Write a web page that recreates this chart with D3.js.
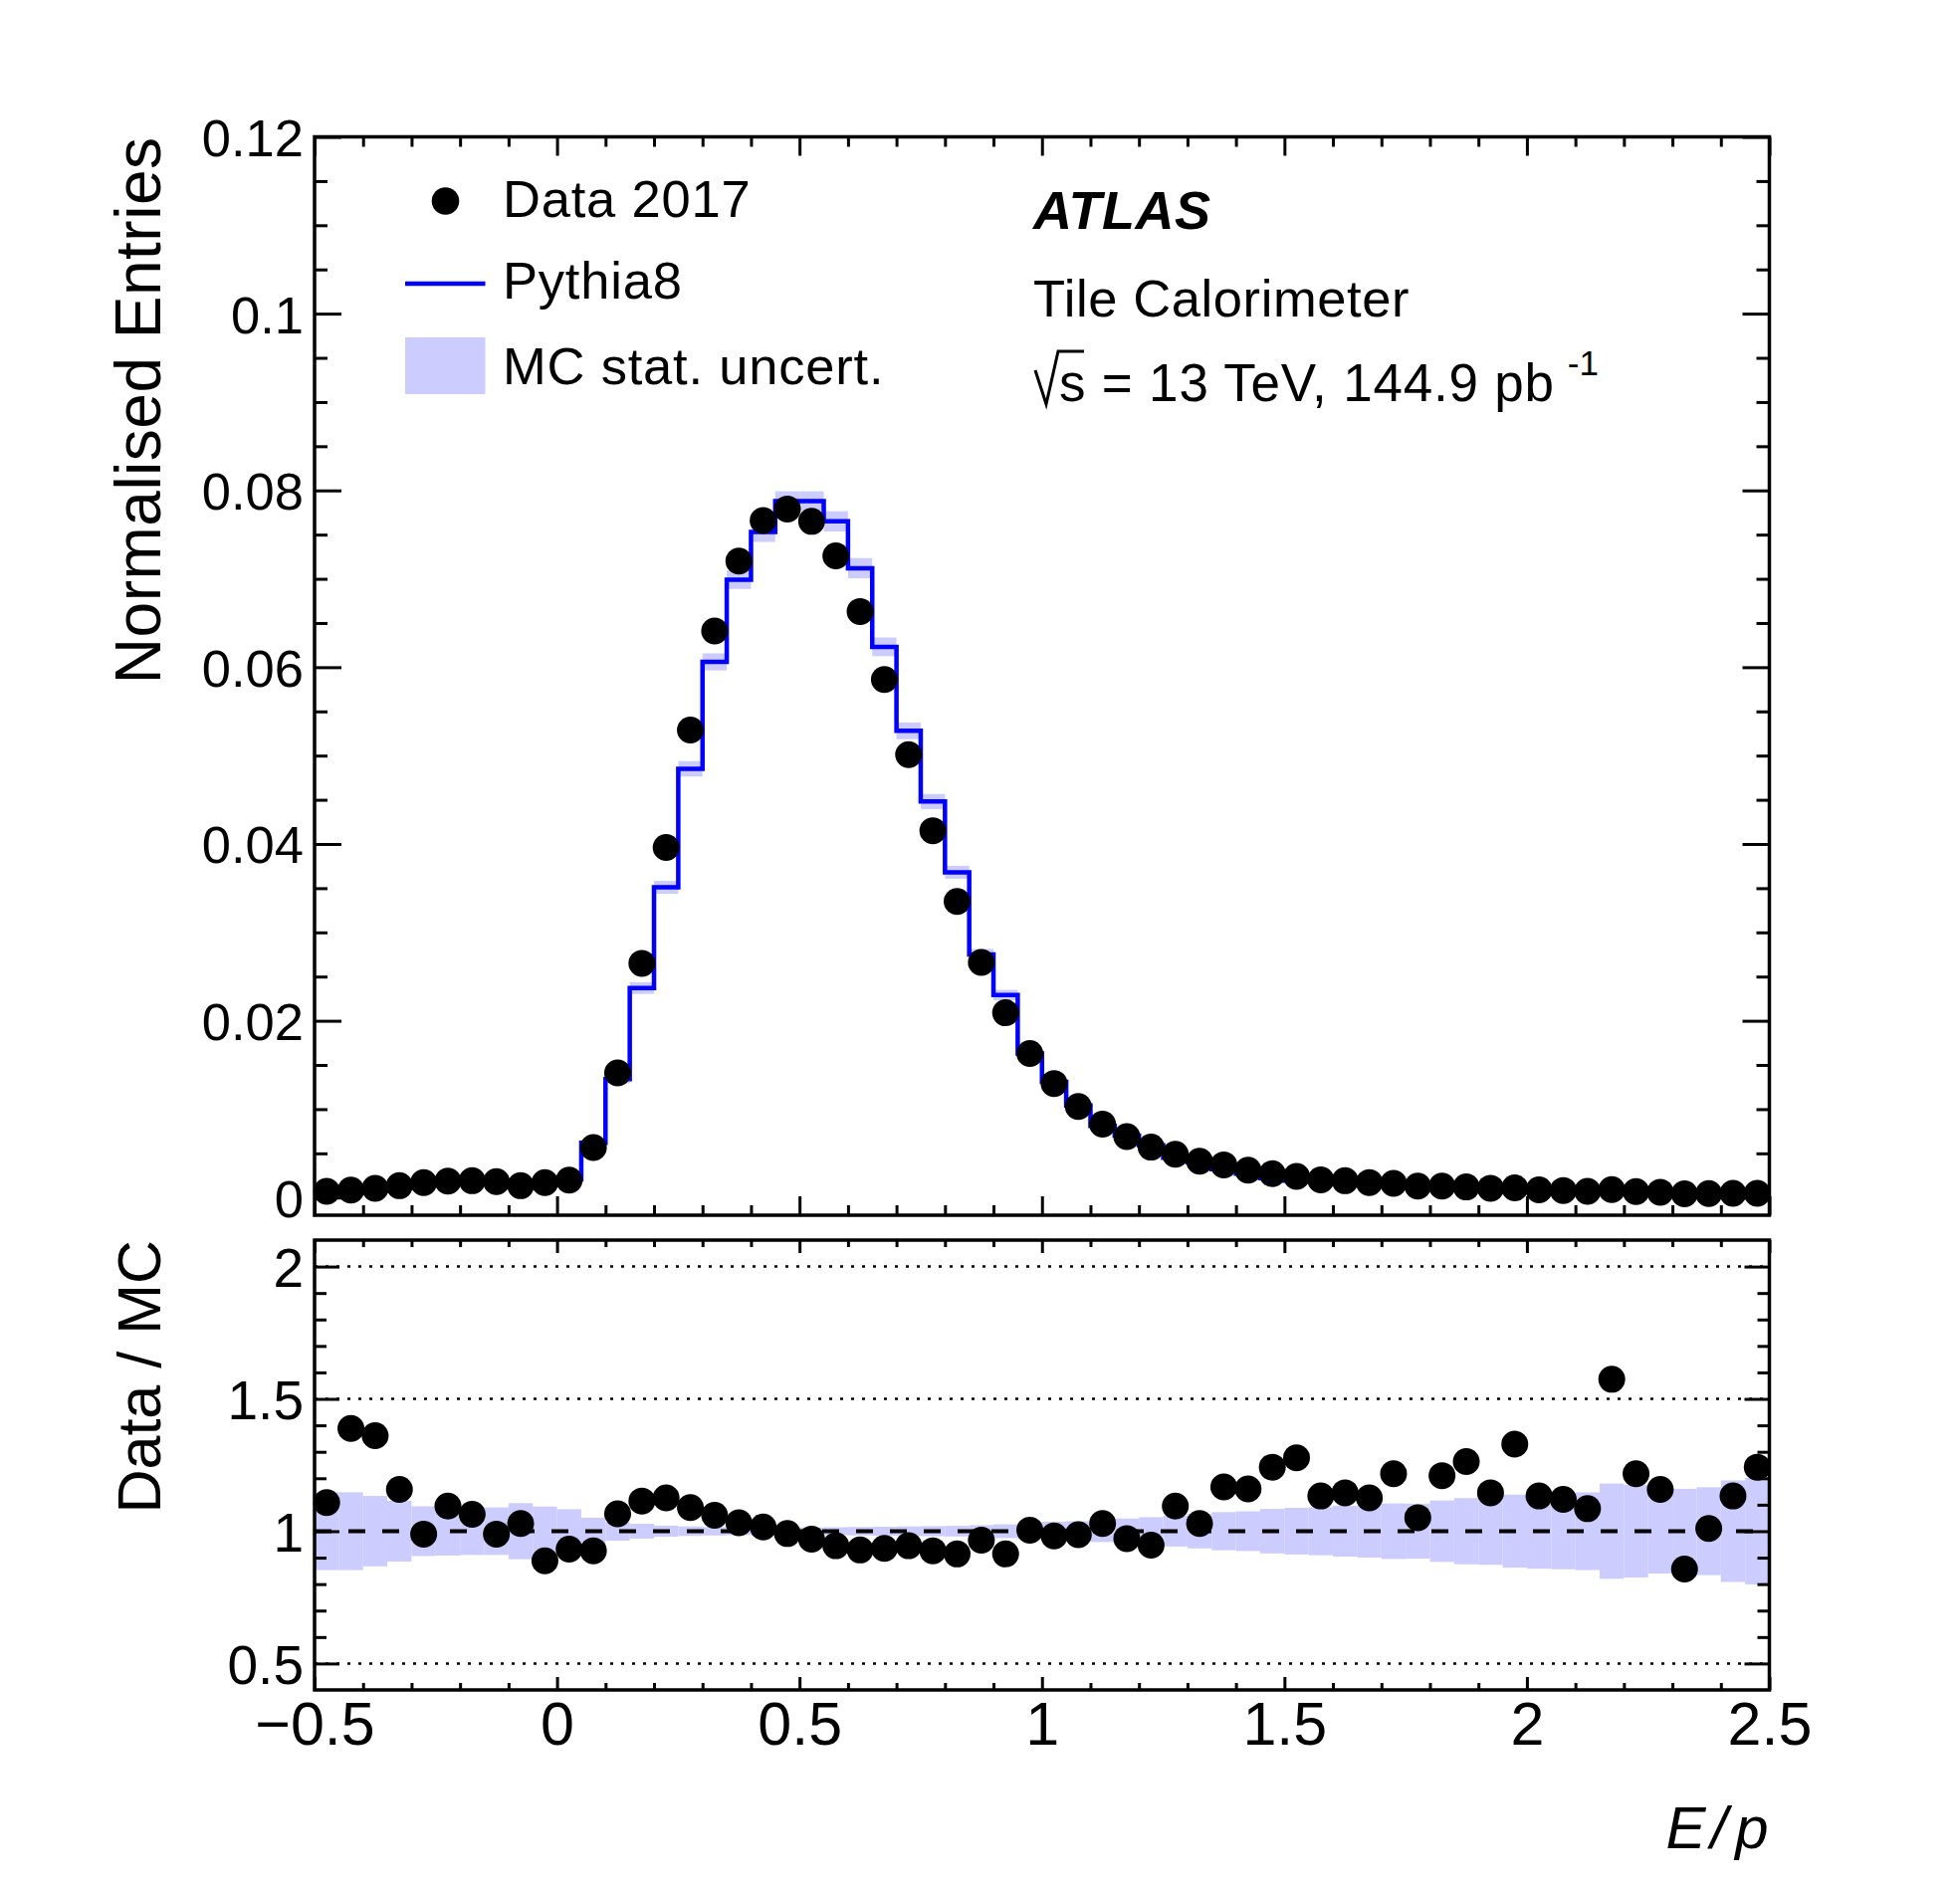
<!DOCTYPE html>
<html><head><meta charset="utf-8">
<script src="https://cdn.jsdelivr.net/npm/d3@7"></script>
<style>
body{margin:0;background:#fff}
svg{display:block}
</style>
</head><body>
<svg id="c" width="1969" height="1899"></svg>
<script>
// ---------------- data ----------------
const binLow = -0.5, binWidth = 0.05, nBins = 60;
const dataVals = [0.00070,0.00085,0.00104,0.00134,0.00168,0.00186,0.00190,0.00180,0.00134,0.00168,
 0.00197,0.00565,0.0141,0.0265,0.0396,0.0529,0.0641,0.0720,0.0766,0.0779,
 0.0765,0.0726,0.0663,0.0586,0.0501,0.0415,0.0335,0.0266,0.0209,0.0163,
 0.0129,0.0103,0.0083,0.0069,0.0057,0.0049,0.0041,0.0037,0.0031,0.0027,
 0.0024,0.0020,0.0019,0.0017,0.0016,0.0013,0.0013,0.0012,0.00105,0.0011,
 0.00087,0.0008,0.0007,0.0009,0.00068,0.0006,0.00042,0.00045,0.00048,0.00048];
const mcVals = [0.00063,0.00061,0.00076,0.00116,0.00170,0.00170,0.00179,0.00182,0.00130,0.00189,
 0.00205,0.0062,0.0134,0.0237,0.0351,0.0485,0.0606,0.0699,0.0753,0.0788,
 0.0788,0.0765,0.0712,0.0623,0.0528,0.0448,0.0368,0.0275,0.0229,0.0163,
 0.0131,0.0104,0.0081,0.0070,0.0059,0.0045,0.0040,0.0032,0.0027,0.0022,
 0.0019,0.0018,0.00165,0.0015,0.0013,0.00124,0.00108,0.00095,0.00092,0.00083,
 0.00077,0.00071,0.00065,0.00057,0.00056,0.00052,0.00049,0.00045,0.00042,0.00039];
const ratioVals = [1.108,1.388,1.361,1.158,0.989,1.095,1.064,0.989,1.029,0.888,
 0.932,0.926,1.066,1.114,1.126,1.089,1.060,1.032,1.016,0.991,
 0.970,0.945,0.929,0.935,0.945,0.926,0.914,0.966,0.914,1.004,
 0.982,0.987,1.029,0.972,0.947,1.095,1.029,1.167,1.160,1.242,
 1.277,1.133,1.145,1.126,1.217,1.051,1.210,1.263,1.145,1.329,
 1.133,1.120,1.085,1.574,1.217,1.158,0.857,1.010,1.133,1.242];
const mcRelErr = [0.147,0.147,0.133,0.115,0.094,0.092,0.090,0.090,0.106,0.093,
 0.083,0.051,0.036,0.028,0.021,0.018,0.016,0.015,0.015,0.014,
 0.014,0.015,0.016,0.017,0.018,0.019,0.020,0.023,0.026,0.030,
 0.036,0.038,0.041,0.048,0.053,0.058,0.065,0.072,0.075,0.084,
 0.088,0.091,0.096,0.100,0.105,0.104,0.116,0.125,0.127,0.138,
 0.142,0.144,0.147,0.180,0.175,0.160,0.160,0.166,0.192,0.201];

const xTickValues = [-0.5,0,0.5,1,1.5,2,2.5];
const xTickLabels = ["\u22120.5","0","0.5","1","1.5","2","2.5"];
const yTopTicks = [0,0.02,0.04,0.06,0.08,0.1,0.12];
const yTopLabels = ["0","0.02","0.04","0.06","0.08","0.1","0.12"];
const yBotTicks = [0.5,1,1.5,2];
const yBotLabels = ["0.5","1","1.5","2"];
const refLines = [0.5,1.5,2];
const legendLabels = ["Data 2017","Pythia8","MC stat. uncert."];

// ---------------- layout ----------------
const FONT = '"Liberation Sans", Arial, Helvetica, sans-serif';
const L = 316, R = 1777.5, T1 = 137.5, B1 = 1221, T2 = 1246, B2 = 1698;
const BLUE = "#0000ff", BAND = "#ccccff";
const x = d3.scaleLinear().domain([-0.5, 2.5]).range([L, R]);
const y1 = d3.scaleLinear().domain([-0.002, 0.12]).range([B1, T1]);
const y2 = d3.scaleLinear().domain([0.4, 2.1]).range([B2, T2]);

const bins = d3.range(nBins).map(i => ({
  lo: binLow + i * binWidth, hi: binLow + (i + 1) * binWidth,
  c: binLow + (i + 0.5) * binWidth,
  data: dataVals[i], mc: mcVals[i], ratio: ratioVals[i], err: mcRelErr[i]
}));

const svg = d3.select("#c");
svg.append("rect").attr("width",1969).attr("height",1899).attr("fill","#fff");

// ---------- top panel ----------
const topG = svg.append("g");
topG.selectAll("rect.band").data(bins).join("rect")
  .attr("x", d => x(d.lo)).attr("width", d => x(d.hi) - x(d.lo))
  .attr("y", d => y1(d.mc * (1 + d.err)))
  .attr("height", d => y1(d.mc * (1 - d.err)) - y1(d.mc * (1 + d.err)))
  .attr("fill", BAND);

const stepPts = bins.map(d => [d.lo, d.mc]).concat([[bins[nBins-1].hi, bins[nBins-1].mc]]);
topG.append("path")
  .attr("d", d3.line().x(d => x(d[0])).y(d => y1(d[1])).curve(d3.curveStepAfter)(stepPts))
  .attr("fill","none").attr("stroke", BLUE).attr("stroke-width", 4.5);

// ---------- bottom panel ----------
const botG = svg.append("g");
botG.selectAll("rect.band").data(bins).join("rect")
  .attr("x", d => x(d.lo)).attr("width", d => x(d.hi) - x(d.lo))
  .attr("y", d => y2(1 + d.err))
  .attr("height", d => y2(1 - d.err) - y2(1 + d.err))
  .attr("fill", BAND);
botG.selectAll("line.ref").data(refLines).join("line")
  .attr("x1", L).attr("x2", R).attr("y1", d => y2(d)).attr("y2", d => y2(d))
  .attr("stroke","#000").attr("stroke-width",2.5).attr("stroke-dasharray","3,8");
botG.append("line").attr("x1", L).attr("x2", R).attr("y1", y2(1)).attr("y2", y2(1))
  .attr("stroke","#000").attr("stroke-width",4).attr("stroke-dasharray","17,17");

// ---------- frames ----------
[[T1,B1],[T2,B2]].forEach(([t,b]) => {
  svg.append("rect").attr("x",L).attr("y",t).attr("width",R-L).attr("height",b-t)
    .attr("fill","none").attr("stroke","#000").attr("stroke-width",3.5);
});

// ---------- axes ----------
function drawAxis(orient, scale, tx, ty, values, size, labels, fontSize, pad) {
  const maker = {bottom:d3.axisBottom, top:d3.axisTop, left:d3.axisLeft, right:d3.axisRight}[orient];
  const gen = maker(scale).tickValues(values).tickSizeInner(-size).tickSizeOuter(0)
    .tickPadding(pad || 0).tickFormat(labels ? ((d, i) => labels[i]) : (() => ""));
  const g = svg.append("g").attr("transform", `translate(${tx},${ty})`).call(gen);
  g.select(".domain").remove();
  g.selectAll(".tick line").attr("stroke","#000").attr("stroke-width",3);
  g.selectAll(".tick text").attr("fill","#000")
    .style("font-size", (fontSize||10) + "px").style("font-family", FONT);
  return g;
}
const near = (v, arr) => arr.some(a => Math.abs(a - v) < 1e-9);
const xMinor = d3.range(-0.4, 2.45, 0.1).map(v => +v.toFixed(2)).filter(v => !near(v, xTickValues));
const yTopMinor = d3.range(0.005, 0.1201, 0.005).map(v => +v.toFixed(3)).filter(v => !near(v, yTopTicks));
const yBotMinor = d3.range(0.6, 2.05, 0.1).map(v => +v.toFixed(2)).filter(v => !near(v, yBotTicks));

// top panel ticks
drawAxis("bottom", x, 0, B1, xTickValues, 19);
drawAxis("bottom", x, 0, B1, xMinor, 10);
drawAxis("top", x, 0, T1, xTickValues, 19);
drawAxis("top", x, 0, T1, xMinor, 10);
const yl = drawAxis("left", y1, L, 0, yTopTicks, 27, yTopLabels, 52.5, 11);
yl.selectAll(".tick text").attr("dy","0.36em");
drawAxis("left", y1, L, 0, yTopMinor, 13);
drawAxis("right", y1, R, 0, yTopTicks, 27);
drawAxis("right", y1, R, 0, yTopMinor, 13);

// bottom panel ticks
drawAxis("bottom", x, 0, B2, xTickValues, 13, xTickLabels, 61, 12);
drawAxis("bottom", x, 0, B2, xMinor, 7);
drawAxis("top", x, 0, T2, xTickValues, 13);
drawAxis("top", x, 0, T2, xMinor, 7);
const yb = drawAxis("left", y2, L, 0, yBotTicks, 25, yBotLabels, 55, 11);
yb.selectAll(".tick text").attr("dy","0.36em");
drawAxis("left", y2, L, 0, yBotMinor, 12);
drawAxis("right", y2, R, 0, yBotTicks, 25);
drawAxis("right", y2, R, 0, yBotMinor, 12);

// ---------- markers ----------
const MR = 13.5;
topG.selectAll("circle.d").data(bins).join("circle")
  .attr("cx", d => x(d.c)).attr("cy", d => y1(d.data)).attr("r", MR).attr("fill","#000");
const botM = svg.append("g");
botM.selectAll("circle.r").data(bins).join("circle")
  .attr("cx", d => x(d.c)).attr("cy", d => y2(d.ratio)).attr("r", MR).attr("fill","#000");

// ---------- axis titles ----------
svg.append("text").attr("transform", `translate(161,${T1}) rotate(-90)`)
  .attr("text-anchor","end").style("font-family",FONT).style("font-size","64px")
  .style("letter-spacing","0.5px").text("Normalised Entries");
svg.append("text").attr("transform", `translate(161,${T2}) rotate(-90)`)
  .attr("text-anchor","end").style("font-family",FONT).style("font-size","61px")
  .text("Data / MC");
const ep = svg.append("text").attr("x", R - 1).attr("y", 1857).attr("text-anchor","end")
  .style("font-family",FONT).style("font-size","60px").style("font-style","italic");
ep.append("tspan").text("E");
ep.append("tspan").attr("dx", 5).text("/");
ep.append("tspan").attr("dx", 8).text("p");

// ---------- legend ----------
const lg = svg.append("g").style("font-family",FONT).style("font-size","52.5px")
  .style("letter-spacing","0.8px");
lg.append("circle").attr("cx",447.5).attr("cy",202).attr("r",MR+0.3).attr("fill","#000");
lg.append("line").attr("x1",407).attr("x2",487.5).attr("y1",285).attr("y2",285)
  .attr("stroke",BLUE).attr("stroke-width",4.5);
lg.append("rect").attr("x",407).attr("y",339).attr("width",80.5).attr("height",57).attr("fill",BAND);
[218, 300, 386].forEach((yy, i) => lg.append("text").attr("x",505).attr("y",yy).text(legendLabels[i]));

// ---------- labels ----------
svg.append("text").attr("x",1038).attr("y",230).style("font-family",FONT)
  .style("font-size","54px").style("font-weight","bold").style("font-style","italic")
  .style("letter-spacing","0.5px").text("ATLAS");
svg.append("text").attr("x",1038).attr("y",318).style("font-family",FONT)
  .style("font-size","52.5px").style("letter-spacing","0.6px").text("Tile Calorimeter");
svg.append("path").attr("d","M1040,372 L1051,406 L1063,353 L1089,353")
  .attr("fill","none").attr("stroke","#000").attr("stroke-width",3);
const en = svg.append("text").attr("x",1064).attr("y",403).style("font-family",FONT)
  .style("font-size","53px").style("letter-spacing","0.8px").text("s = 13 TeV, 144.9 pb");
const enLen = en.node().getComputedTextLength();
svg.append("text").attr("x",1064 + enLen + 13).attr("y",377).style("font-family",FONT)
  .style("font-size","35px").text("-1");
</script>
</body></html>
